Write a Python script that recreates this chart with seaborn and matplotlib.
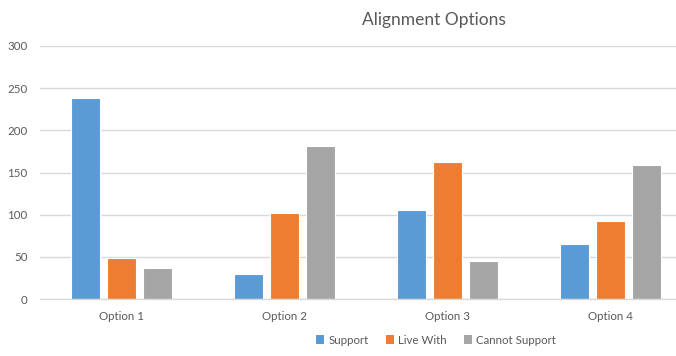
import matplotlib
matplotlib.use("Agg")
import matplotlib.pyplot as plt
import seaborn as sns
import pandas as pd
from matplotlib.patches import Patch

categories = ["Option 1", "Option 2", "Option 3", "Option 4"]
series_names = ["Support", "Live With", "Cannot Support"]
support = [238, 30, 106, 65]
live_with = [49, 102, 162, 92]
cannot_support = [37, 182, 45, 159]
yticks = [0, 50, 100, 150, 200, 250, 300]

colors = ["#5B9BD5", "#ED7D31", "#A5A5A5"]
text_color = "#595959"

rows = []
for name, vals in zip(series_names, [support, live_with, cannot_support]):
    for c, v in zip(categories, vals):
        rows.append({"Option": c, "Series": name, "Value": v})
df = pd.DataFrame(rows)

sns.set_theme(style="white")
plt.rcParams["font.family"] = ["Lato", "DejaVu Sans"]

fig = plt.figure(figsize=(6.76, 3.56), dpi=100)
ax = fig.add_axes([40 / 676, 1 - 299 / 356, 652 / 676, (299 - 46) / 356])

sns.barplot(data=df, x="Option", y="Value", hue="Series", order=categories,
            hue_order=series_names, palette=colors, saturation=1, width=0.663, gap=0.22,
            edgecolor="white", linewidth=0.8, ax=ax, legend=False)

ax.set_ylim(0, 300)
ax.set_xlim(-0.5, 3.5)
ax.set_yticks(yticks)
ax.set_yticklabels([str(t) for t in yticks])
ax.yaxis.grid(True, color="#D9D9D9", linewidth=1)
ax.set_axisbelow(True)
for s in ["top", "right", "left"]:
    ax.spines[s].set_visible(False)
ax.spines["bottom"].set_color("#D9D9D9")
ax.spines["bottom"].set_linewidth(1)
ax.set_xlabel("")
ax.set_ylabel("")
ax.tick_params(axis="both", length=0, colors=text_color, labelsize=8.3)
ax.tick_params(axis="y", pad=9)
ax.tick_params(axis="x", pad=9)

fig.text(434 / 676, 1 - 20 / 356, "Alignment Options", ha="center", va="center",
         fontsize=12.5, color=text_color)

handles = [Patch(facecolor=c, edgecolor="none") for c in colors]
fig.legend(handles, series_names, loc="center", bbox_to_anchor=(436 / 676, 1 - 340 / 356),
           ncol=3, frameon=False, fontsize=8.3, labelcolor=text_color,
           handlelength=0.7, handleheight=0.7, handletextpad=0.35, columnspacing=1.5)

fig.savefig("out.png", dpi=100)
